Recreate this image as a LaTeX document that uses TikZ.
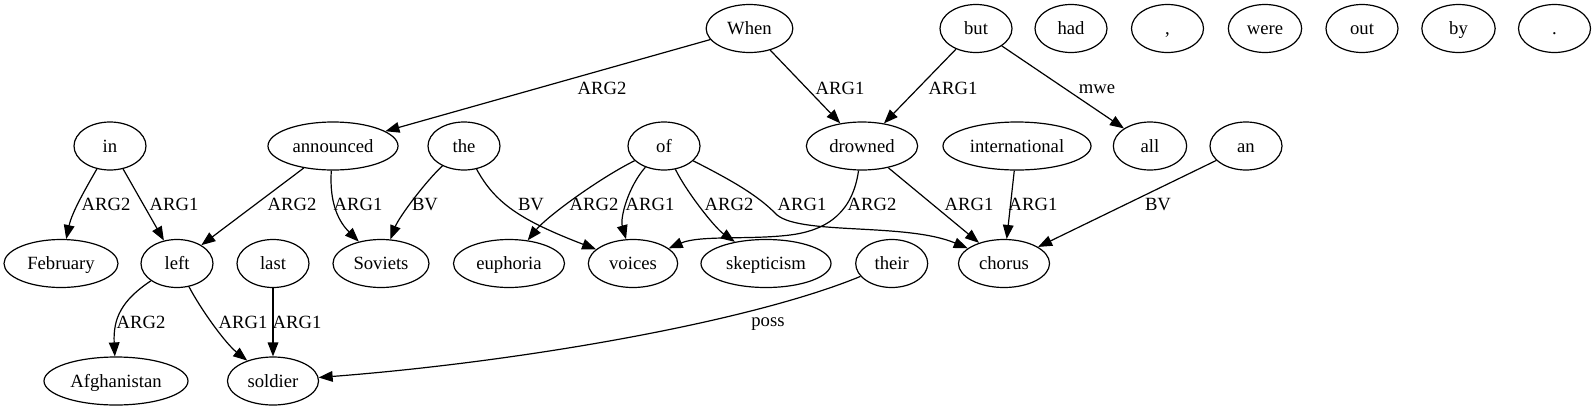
\documentclass[tikz,border=0pt]{standalone}
\usepackage{fontspec}
\setmainfont{Liberation Serif}
\usetikzlibrary{shapes.geometric,arrows.meta}
\begin{document}
\begin{tikzpicture}[x=0.75pt,y=-0.75pt,
  tok/.style={ellipse,draw,line width=0.9pt,inner sep=0pt,minimum height=36pt,minimum width=54pt,text height=9pt,text depth=0pt,font=\fontsize{14}{16}\selectfont},
  lab/.style={inner sep=0pt,text height=9pt,text depth=0pt,font=\fontsize{14}{16}\selectfont},
  rel/.style={draw,line width=0.9pt,-{Triangle[length=10.5pt,width=8pt]}}]
\useasboundingbox (0,0) rectangle (1596,411);
% top row
\node[tok,minimum width=65pt] (When) at (749.5,28.5) {When};
\node[tok] (but) at (976,28.5) {but};
\node[tok] (had) at (1071,28.5) {had};
\node[tok] (comma) at (1167.5,28.5) {,};
\node[tok,minimum width=55pt] (were) at (1265,28.5) {were};
\node[tok] (out) at (1362,28.5) {out};
\node[tok,minimum width=55pt] (by) at (1458.5,28.5) {by};
\node[tok] (period) at (1554.5,28.5) {.};
% second row
\node[tok] (in) at (110,146) {in};
\node[tok,minimum width=97.5pt] (announced) at (333,146) {announced};
\node[tok] (the) at (464,146) {the};
\node[tok] (of) at (664,146) {of};
\node[tok,minimum width=83.5pt] (drowned) at (862,146) {drowned};
\node[tok,minimum width=111pt] (international) at (1017,146) {international};
\node[tok,minimum width=55pt] (all) at (1150,146) {all};
\node[tok] (an) at (1246,146) {an};
% third row
\node[tok,minimum width=85.5pt] (February) at (61,263.5) {February};
\node[tok] (left) at (177,263.5) {left};
\node[tok] (last) at (273,263.5) {last};
\node[tok,minimum width=72pt] (Soviets) at (381,263.5) {Soviets};
\node[tok,minimum width=83.3pt] (euphoria) at (509,263.5) {euphoria};
\node[tok,minimum width=67pt] (voices) at (633,263.5) {voices};
\node[tok,minimum width=97.5pt] (skepticism) at (766,263.5) {skepticism};
\node[tok] (their) at (891.7,263.5) {their};
\node[tok,minimum width=68.3pt] (chorus) at (1004,263.5) {chorus};
% fourth row
\node[tok,minimum width=108pt] (Afghanistan) at (116,381) {Afghanistan};
\node[tok,minimum width=68.3pt] (soldier) at (273,381) {soldier};
% edges
\draw[rel] (When) -- (announced);
\draw[rel] (When) -- (drowned);
\draw[rel] (but) -- (drowned);
\draw[rel] (but) -- (all);
\draw[rel] (in) .. controls (86,188) and (72,212) .. (February);
\draw[rel] (in) -- (left);
\draw[rel] (announced) -- (left);
\draw[rel] (announced) .. controls (329,205) and (340,223) .. (Soviets);
\draw[rel] (the) .. controls (426,181) and (399,217) .. (Soviets);
\draw[rel] (the) .. controls (495,203) and (520,220) .. (voices);
\draw[rel] (of) .. controls (598,179) and (546.5,217) .. (euphoria);
\draw[rel] (of) .. controls (628,187) and (620,218) .. (voices);
\draw[rel] (of) .. controls (686.5,192) and (715,228) .. (skepticism);
\draw[rel] (of) .. controls (735,182) and (758,196) .. (775,213) .. controls (795,236) and (905,222) .. (chorus);
\draw[rel] (drowned) .. controls (853,210) and (830,230) .. (790,235) .. controls (750,240) and (700,235) .. (voices);
\draw[rel] (drowned) -- (chorus);
\draw[rel] (international) -- (chorus);
\draw[rel] (an) -- (chorus);
\draw[rel] (left) .. controls (122,300) and (113,318) .. (Afghanistan);
\draw[rel] (left) .. controls (200,308) and (225,343) .. (soldier);
\draw[rel] (last) -- (soldier);
\draw[rel] (their) .. controls (750,322) and (520,362) .. (soldier);
% labels
\node[lab] (l1) at (602,88.3) {ARG2};
\node[lab] (l2) at (840,88) {ARG1};
\node[lab] (l3) at (953,88) {ARG1};
\node[lab] (l4) at (1097,87.5) {mwe};
\node[lab] (l5) at (106,204.5) {ARG2};
\node[lab] (l6) at (174,204.5) {ARG1};
\node[lab] (l7) at (292,204.5) {ARG2};
\node[lab] (l8) at (358,204.5) {ARG1};
\node[lab] (l9) at (425,204.5) {BV};
\node[lab] (l10) at (531,204.5) {BV};
\node[lab] (l11) at (594,204.5) {ARG2};
\node[lab] (l12) at (650,204.5) {ARG1};
\node[lab] (l13) at (729,204.5) {ARG2};
\node[lab] (l14) at (802,204.5) {ARG1};
\node[lab] (l15) at (872,204.5) {ARG2};
\node[lab] (l16) at (969,204.5) {ARG1};
\node[lab] (l17) at (1033,204.5) {ARG1};
\node[lab] (l18) at (1158,204) {BV};
\node[lab] (l19) at (141,322.3) {ARG2};
\node[lab] (l20) at (243,322.3) {ARG1};
\node[lab] (l21) at (297,322.3) {ARG1};
\node[lab] (l22) at (768,320) {poss};
\end{tikzpicture}
\end{document}
